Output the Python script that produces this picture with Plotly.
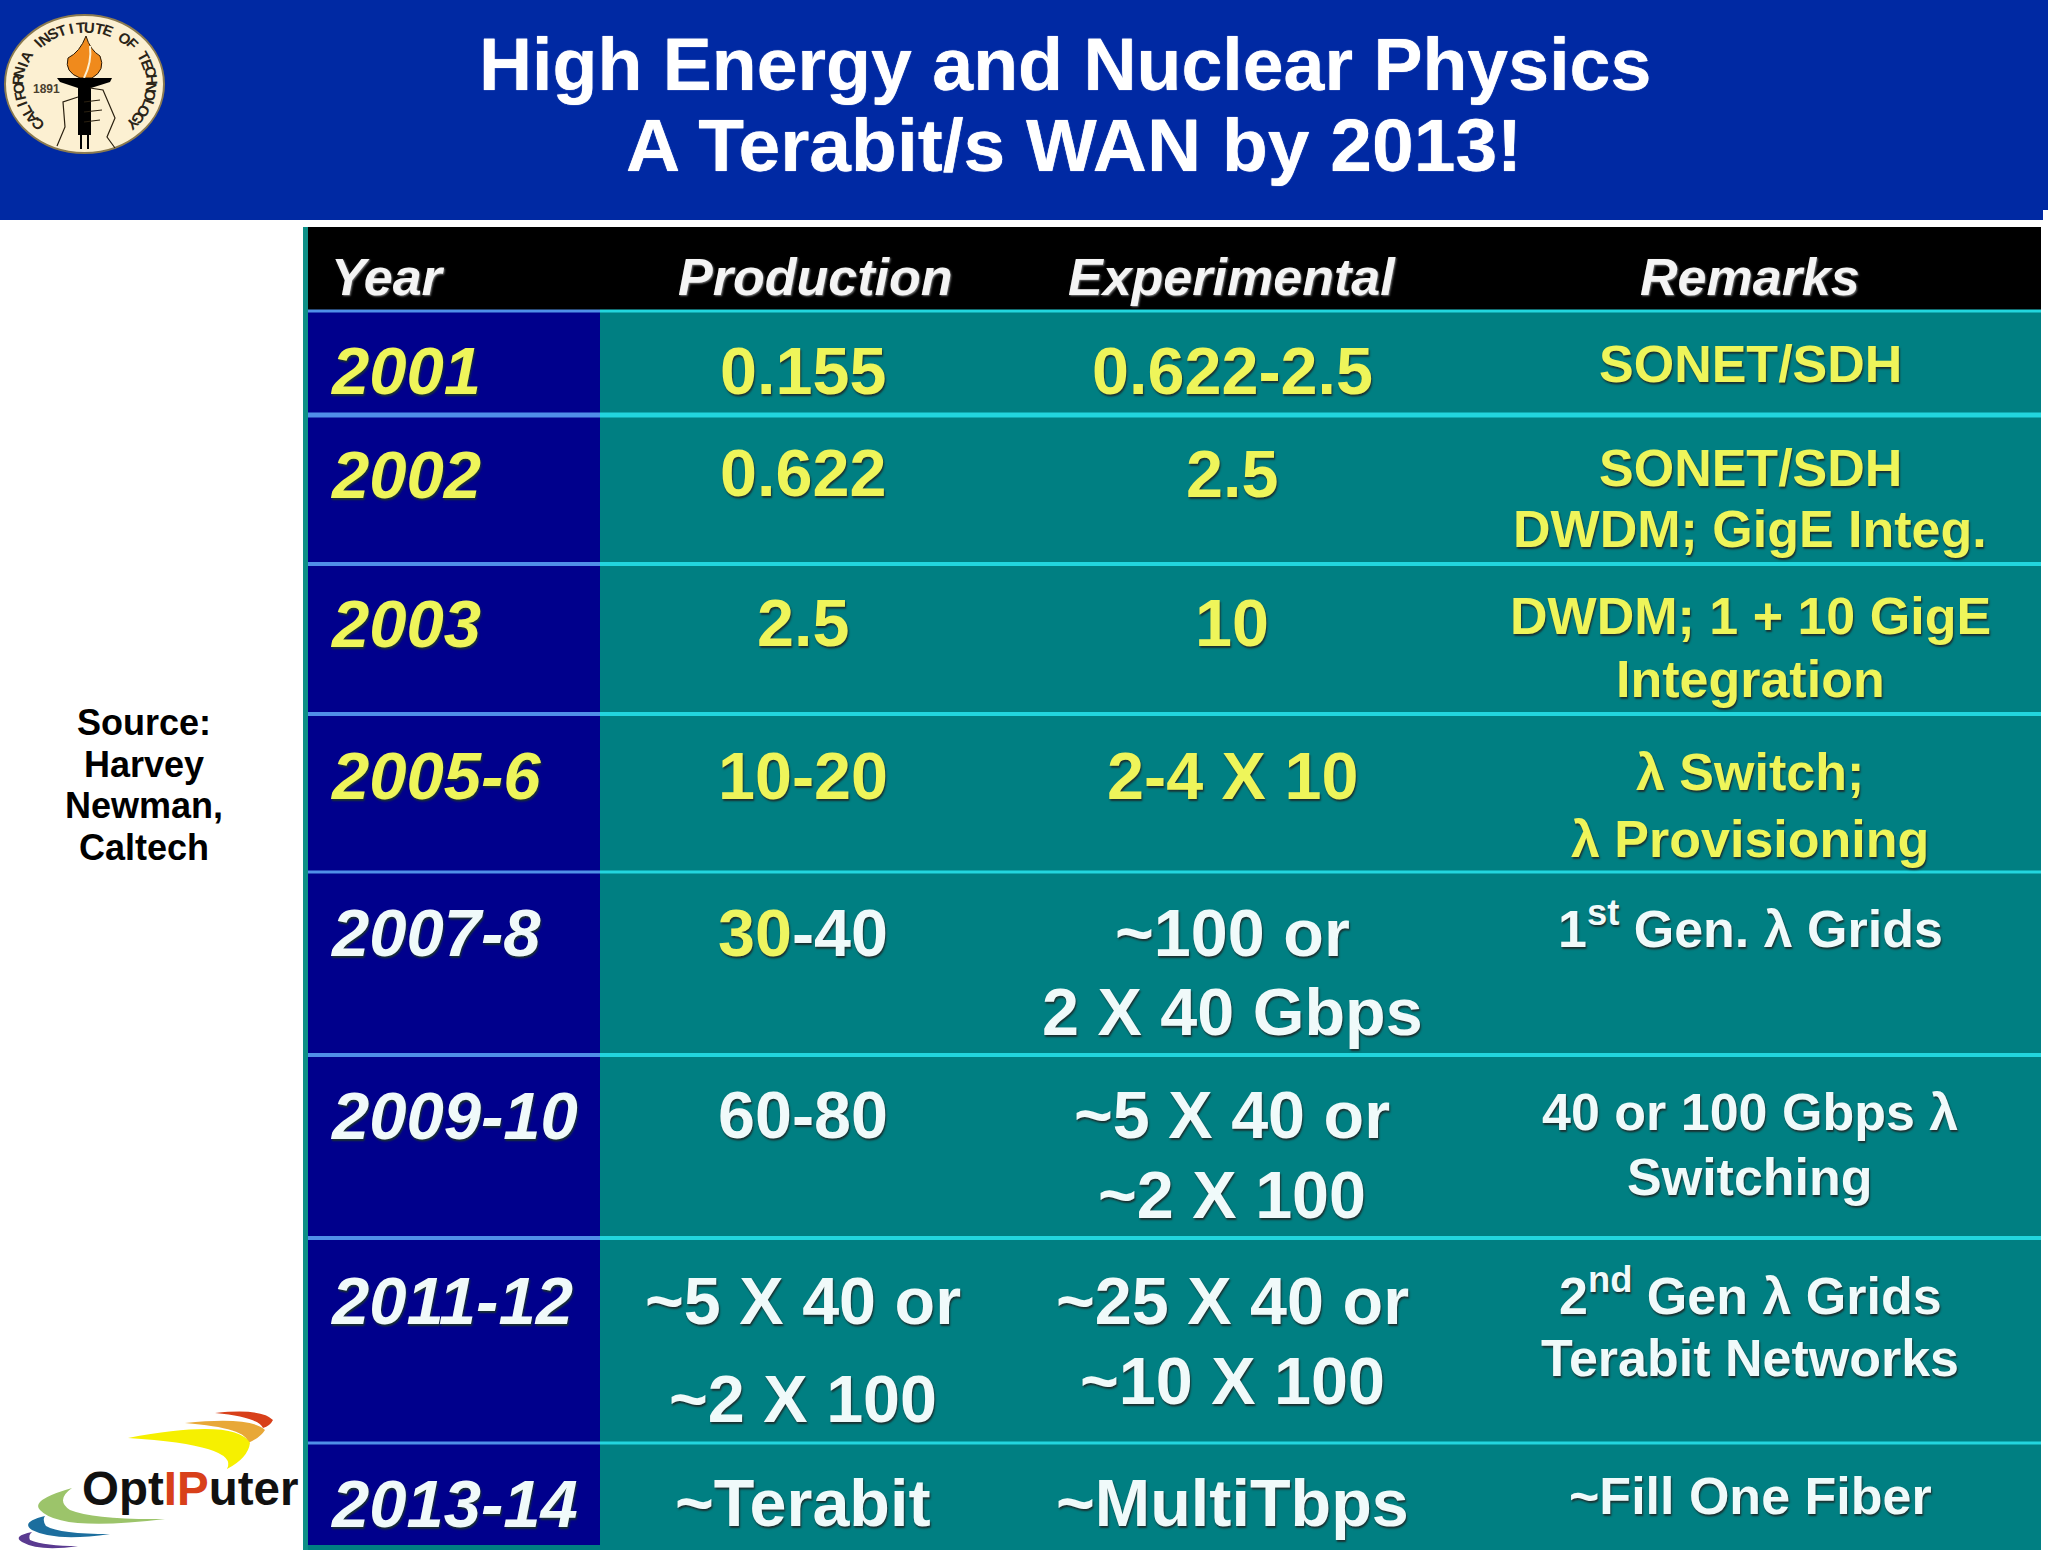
import math
import plotly.graph_objects as go

# table contents
headers = ["Year", "Production", "Experimental", "Remarks"]
years = ["2001", "2002", "2003", "2005-6", "2007-8", "2009-10", "2011-12", "2013-14"]
production = [["0.155"], ["0.622"], ["2.5"], ["10-20"],
              ["<span style='color:#EEF560'>30</span>-40"], ["60-80"],
              ["~5 X 40 or", "~2 X 100"], ["~Terabit"]]
experimental = [["0.622-2.5"], ["2.5"], ["10"], ["2-4 X 10"],
                ["~100 or", "2 X 40 Gbps"], ["~5 X 40 or", "~2 X 100"],
                ["~25 X 40 or", "~10 X 100"], ["~MultiTbps"]]
remarks = [["SONET/SDH"], ["SONET/SDH", "DWDM; GigE Integ."],
           ["DWDM; 1 + 10 GigE", "Integration"], ["λ Switch;", "λ Provisioning"],
           ["1<sup>st</sup> Gen. λ Grids"], ["40 or 100 Gbps λ", "Switching"],
           ["2<sup>nd</sup> Gen λ Grids", "Terabit Networks"], ["~Fill One Fiber"]]
source_lines = ["Source:", "Harvey", "Newman,", "Caltech"]
title_lines = ["High Energy and Nuclear Physics", "A Terabit/s WAN by 2013!"]

# layout, in pixels of the page
S = 2048 / 1568
row_edges = [311, 415, 564, 714, 872, 1055, 1238, 1443, 1550]
edge_widths = [3, 5, 4, 4, 3, 4, 4, 3]
year_y = [284, 363, 477, 594, 714, 854, 996, 1151]
production_y = [[284], [362], [477], [594], [714], [854], [996, 1071], [1151]]
experimental_y = [[284], [363], [477], [594], [714, 775], [854, 915], [996, 1057], [1151]]
remarks_y = [[279], [358, 405], [472, 520], [591, 642], [708], [851, 901], [989, 1040], [1145]]

YELLOW = "#EEF55A"
WHITE = "#F0FAFA"
TEAL = "#007F82"
NAVY = "#00008C"
SHADOW = "1px 2px 2px #1a3030"

fig = go.Figure()
shapes = []
notes = []


def rect(x0, y0, x1, y1, color):
    shapes.append(dict(type="rect", x0=x0, y0=y0, x1=x1, y1=y1,
                       fillcolor=color, line_width=0, layer="below"))


def path(d, fill=None, line=None, width=1):
    shapes.append(dict(type="path", path=d, fillcolor=fill or "rgba(0,0,0,0)",
                       line=dict(color=line or "rgba(0,0,0,0)", width=width if line else 0),
                       layer="above"))


def text(x, y, s, size, color, anchor="center", italic=False, shadow="none", angle=0, bold=True):
    notes.append(dict(x=x, y=y, text=s, showarrow=False, xanchor=anchor, yanchor="middle",
                      textangle=angle,
                      font=dict(family="Liberation Sans", size=size, color=color,
                                weight="bold" if bold else "normal",
                                style="italic" if italic else "normal", shadow=shadow)))


# banner
rect(0, 0, 2048, 220, "#0029A3")
rect(2043, 210, 2048, 222, "#FFFFFF")
text(1065, 64, title_lines[0], 73.5, "#FFFFFF", shadow="0 0 1px #FFFFFF")
text(1074, 145, title_lines[1], 75, "#FFFFFF", shadow="0 0 1px #FFFFFF")

# table body
rect(303, 227, 2041, 1550, TEAL)
rect(308, 227, 2041, 311, "#000000")
rect(308, 311, 600, 1545, NAVY)
rect(303, 227, 308, 1550, "#0E8F86")
for edge, w in zip(row_edges[:-1], edge_widths):
    rect(308, edge - w / 2, 600, edge + w / 2, "#4F8FE8")
    rect(600, edge - w / 2, 2041, edge + w / 2, "#22D6DE")

# header row
hx = [329, 815, 1232, 1750]
for i, h in enumerate(headers):
    text(hx[i], 277, h, 52, "#F4F4F4", anchor="left" if i == 0 else "center", italic=True,
         shadow="1px 1px 2px #777")

# rows; the first four are yellow, the rest white
for i, year in enumerate(years):
    color = YELLOW if i < 4 else WHITE
    text(328, year_y[i] * S, year, 67, color, anchor="left", italic=True, shadow=SHADOW)
    for line, y in zip(production[i], production_y[i]):
        text(803, y * S, line, 66.5, color, shadow=SHADOW)
    for line, y in zip(experimental[i], experimental_y[i]):
        text(1232, y * S, line, 66.5, color, shadow=SHADOW)
    for line, y in zip(remarks[i], remarks_y[i]):
        text(1750, y * S, line, 52, color, shadow=SHADOW)

# source note
for line, y in zip(source_lines, [722, 764, 805, 847]):
    text(144, y, line, 36, "#000000")

# Caltech seal
shapes.append(dict(type="circle", x0=5, y0=15, x1=164, y1=153, fillcolor="#FCF0D2",
                   line=dict(color="#8a7a50", width=2), layer="above"))
seal = "CALIFORNIA INSTITUTE OF TECHNOLOGY"
for k, ch in enumerate(seal):
    if ch == " ":
        continue
    a = math.radians(-135 + k * 270 / (len(seal) - 1))
    text(85 + 67 * math.sin(a), 84 - 57 * math.cos(a), ch, 15, "#2a2418", angle=math.degrees(a))
text(46, 89, "1891", 12, "#4a4030")
path("M 86 36 Q 90 50 100 56 Q 106 70 92 78 L 80 78 Q 64 72 68 58 Q 80 52 86 36 Z", "#F08A1C", "#2a1a08", 1)
path("M 90 46 Q 92 62 84 78", None, "#FCF0D2", 2)
path("M 57 78 L 112 78 L 110 82 L 91 88 L 91 135 L 78 135 L 78 88 L 60 82 Z", "#000000")
path("M 81 135 L 81 149 M 88 135 L 88 149", None, "#000000", 2)
path("M 78 97 L 63 102 L 65 127 L 57 146 M 90 88 L 103 90 L 115 118 L 107 137 L 115 148 M 84 102 L 100 100 M 84 112 L 102 110 M 84 122 L 100 120",
     None, "#2a2010", 1.2)

# OptIPuter logo
path("M 215 1413 Q 262 1408 273 1420 Q 270 1426 263 1428 Q 258 1417 215 1413 Z", "#D8401A")
path("M 185 1423 Q 250 1416 265 1430 Q 260 1438 248 1443 Q 248 1428 185 1423 Z", "#E8A838")
path("M 128 1438 Q 235 1418 250 1443 Q 248 1458 227 1469 Q 240 1445 128 1438 Z", "#F6F000")
path("M 72 1488 Q 30 1500 40 1510 Q 60 1532 165 1519 Q 95 1520 70 1510 Q 55 1500 72 1488 Z", "#9CC46A")
path("M 45 1516 Q 20 1522 32 1530 Q 55 1542 110 1534 Q 60 1534 46 1526 Q 42 1520 45 1516 Z", "#1C6E9E")
path("M 32 1532 Q 12 1536 22 1542 Q 40 1552 78 1546 Q 45 1546 30 1540 Q 28 1535 32 1532 Z", "#5A3A90")
text(80, 1488, "Opt<span style='color:#D8401A'>IP</span>uter", 47.5, "#111111", anchor="left")

fig.update_layout(
    width=2048, height=1553,
    margin=dict(l=0, r=0, t=0, b=0),
    paper_bgcolor="#FFFFFF", plot_bgcolor="#FFFFFF",
    xaxis=dict(range=[0, 2048], visible=False, fixedrange=True),
    yaxis=dict(range=[1553, 0], visible=False, fixedrange=True),
    showlegend=False,
    shapes=shapes,
    annotations=notes,
)

fig.write_html("out.html", config=dict(displayModeBar=False),
               post_script="document.body.style.margin='0';document.body.style.overflow='hidden';")
